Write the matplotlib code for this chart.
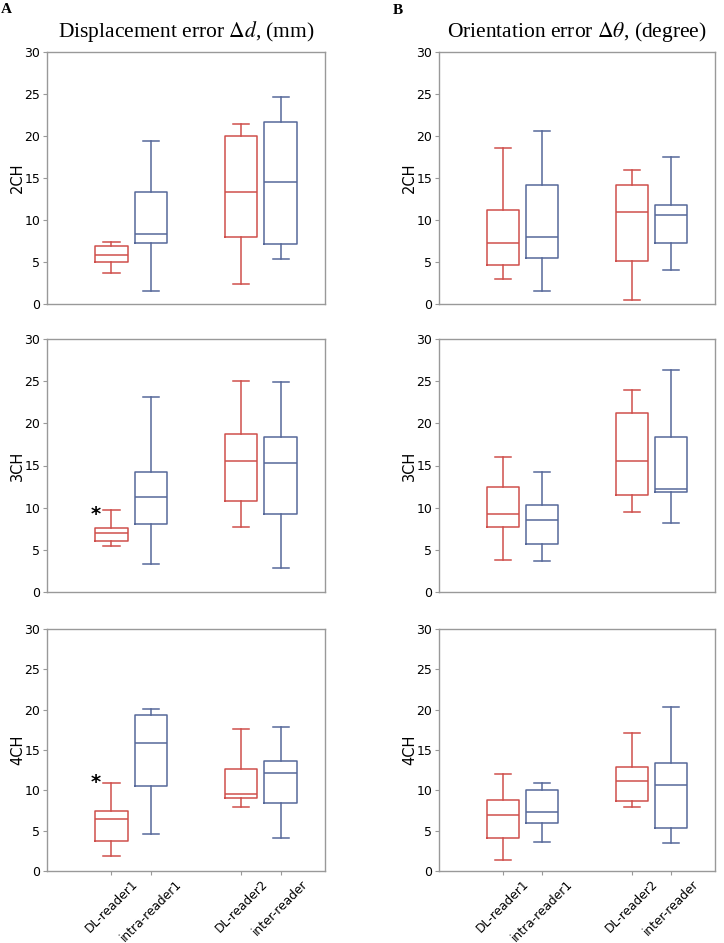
import matplotlib
matplotlib.use("Agg")
import matplotlib.pyplot as plt

# five-number summaries: [whislo, q1, med, q3, whishi]
# order of boxes: DL-reader1, intra-reader1, DL-reader2, inter-reader
disp_2ch = [[3.65, 4.95, 5.87, 6.94, 7.33],
            [1.59, 7.21, 8.28, 13.28, 19.38],
            [2.42, 7.93, 13.36, 19.98, 21.4],
            [5.31, 7.09, 14.47, 21.72, 24.65]]
disp_3ch = [[5.42, 6.09, 7.0, 7.55, 9.68],
            [3.36, 8.06, 11.26, 14.19, 23.12],
            [7.71, 10.79, 15.53, 18.7, 24.98],
            [2.85, 9.25, 15.3, 18.42, 24.94]]
disp_4ch = [[1.9, 3.72, 6.45, 7.49, 10.96],
            [4.55, 10.59, 15.89, 19.4, 20.1],
            [7.94, 9.02, 9.6, 12.7, 17.58],
            [4.14, 8.44, 12.12, 13.61, 17.83]]
orient_2ch = [[2.94, 4.68, 7.3, 11.19, 18.61],
              [1.59, 5.48, 7.94, 14.17, 20.6],
              [0.52, 5.16, 10.95, 14.21, 15.91],
              [4.09, 7.3, 10.6, 11.83, 17.5]]
orient_3ch = [[3.75, 7.71, 9.29, 12.49, 16.0],
              [3.68, 5.73, 8.58, 10.32, 14.23],
              [9.49, 11.46, 15.49, 21.26, 23.99],
              [8.22, 11.9, 12.21, 18.38, 26.32]]
orient_4ch = [[1.4, 4.05, 6.98, 8.8, 12.02],
              [3.6, 5.99, 7.36, 10.04, 10.95],
              [7.93, 8.68, 11.12, 12.89, 17.15],
              [3.43, 5.33, 10.62, 13.39, 20.29]]

groups = ["DL-reader1", "intra-reader1", "DL-reader2", "inter-reader"]
views = ["2CH", "3CH", "4CH"]
# asterisk (significance) marks: (column, row) -> y value
stars = {(0, 1): 9.2, (0, 2): 11.0}

red = "#cf4f4c"
blue = "#56689a"
colors = [red, blue, red, blue]
positions = [1, 2, 4.3, 5.3]

W, H = 724, 943
fig = plt.figure(figsize=(W / 100, H / 100), dpi=100)
plt.rcParams["mathtext.fontset"] = "stix"

col_x = [(47, 325), (439, 715)]
row_y = [(52, 304), (339, 592), (629, 871)]
data = [[disp_2ch, disp_3ch, disp_4ch], [orient_2ch, orient_3ch, orient_4ch]]
titles = [r"Displacement error $\Delta d$, (mm)", r"Orientation error $\Delta\theta$, (degree)"]

for c in range(2):
    for r in range(3):
        x0, x1 = col_x[c]
        y0, y1 = row_y[r]
        ax = fig.add_axes([x0 / W, 1 - y1 / H, (x1 - x0) / W, (y1 - y0) / H])
        for i, vals in enumerate(data[c][r]):
            st = dict(whislo=vals[0], q1=vals[1], med=vals[2], q3=vals[3],
                      whishi=vals[4], fliers=[])
            lp = dict(color=colors[i], linewidth=1.1)
            ax.bxp([st], positions=[positions[i]], widths=0.82, capwidths=0.41,
                   showfliers=False, boxprops=lp, medianprops=lp,
                   whiskerprops=lp, capprops=lp)
        ax.set_xlim(-0.64, 6.43)
        ax.set_ylim(0, 30)
        ax.set_yticks(range(0, 31, 5))
        ax.set_ylabel(views[r], fontsize=10.5)
        ax.yaxis.set_label_coords(-22 / (x1 - x0), 0.5)
        ax.tick_params(axis="y", labelsize=9, length=3, color="#999999", pad=2)
        for s in ax.spines.values():
            s.set_color("#999999")
            s.set_linewidth(1)
        if r == 2:
            ax.set_xticks(positions)
            ax.set_xticklabels(groups, rotation=45, ha="center", fontsize=8.8)
            ax.tick_params(axis="x", length=3, color="#999999", pad=1.5)
        else:
            ax.set_xticks([])
        if r == 0:
            ax.set_title(titles[c], family="Liberation Serif", fontsize=15.5, pad=11)
        if (c, r) in stars:
            ax.text(positions[0] - 0.41, stars[(c, r)], "*", fontsize=14,
                    fontweight="bold", ha="center", va="center")

fig.text(1 / W, 1 - 3 / H, "A", family="Liberation Serif", fontweight="bold",
         fontsize=11, va="top")
fig.text(393 / W, 1 - 4 / H, "B", family="Liberation Serif", fontweight="bold",
         fontsize=11, va="top")

fig.savefig("out.png", dpi=100)
